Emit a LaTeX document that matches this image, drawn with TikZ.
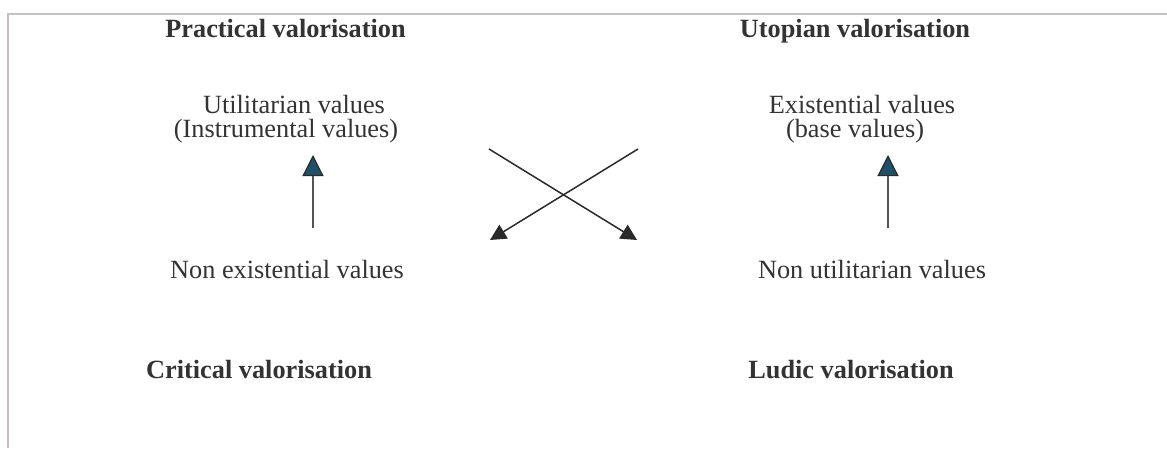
\documentclass[tikz,border=0pt]{standalone}
\usepackage{fontspec}
\setmainfont{Liberation Serif}
\usetikzlibrary{arrows.meta}
\definecolor{txt}{HTML}{333333}
\definecolor{frame}{HTML}{C9C1C1}
\definecolor{tealc}{HTML}{1F5068}
\definecolor{darkc}{HTML}{2A2A2A}
\definecolor{shaft}{HTML}{555555}
\tikzset{
  lbl/.style={anchor=base, inner sep=0pt, text=txt, font=\fontsize{26.3}{30}\selectfont},
  head/.style={lbl, font=\fontsize{26.3}{30}\selectfont\bfseries},
  uparrow/.style={draw=shaft, line width=1.1pt, -{Triangle[length=21pt,width=21pt,fill=tealc,color=darkc,line width=1.2pt]}},
  crossarrow/.style={draw=darkc, line width=1.5pt, -{Triangle[length=16pt,width=16pt]}}
}
\begin{document}
\begin{tikzpicture}[x=1pt,y=-1pt]
\useasboundingbox (0,0) rectangle (1167,448);
% frame (top and left only)
\coordinate (fTR) at (1167,14);
\coordinate (fTL) at (8,14);
\coordinate (fBL) at (8,448);
\draw[frame, line width=1.5pt] (fTR) -- (fTL) -- (fBL);
% headings
\node[head] (prac) at (285.5,37.7) {Practical valorisation};
\node[head] (utop) at (855,37.7) {Utopian valorisation};
\node[head] (crit) at (259,378) {Critical valorisation};
\node[head] (ludi) at (851,378) {Ludic valorisation};
% values
\node[lbl] (util1) at (294,113) {Utilitarian values};
\node[lbl] (util2) at (286,137) {(Instrumental values)};
\node[lbl] (exis1) at (862,113) {Existential values};
\node[lbl] (exis2) at (855,137) {(base values)};
\node[lbl] (nonex) at (287,278) {Non existential values};
\node[lbl] (nonut) at (872,278) {Non utilitarian values};
% vertical arrows
\coordinate (la0) at (313,228);
\coordinate (la1) at (313,155);
\coordinate (ra0) at (888,228);
\coordinate (ra1) at (888,155);
\draw[uparrow] (la0) -- (la1);
\draw[uparrow] (ra0) -- (ra1);
% crossing arrows
\coordinate (c1s) at (489,149);
\coordinate (c1e) at (637,240);
\coordinate (c2s) at (638,149);
\coordinate (c2e) at (490,240);
\draw[crossarrow] (c1s) -- (c1e);
\draw[crossarrow] (c2s) -- (c2e);
\end{tikzpicture}
\end{document}
